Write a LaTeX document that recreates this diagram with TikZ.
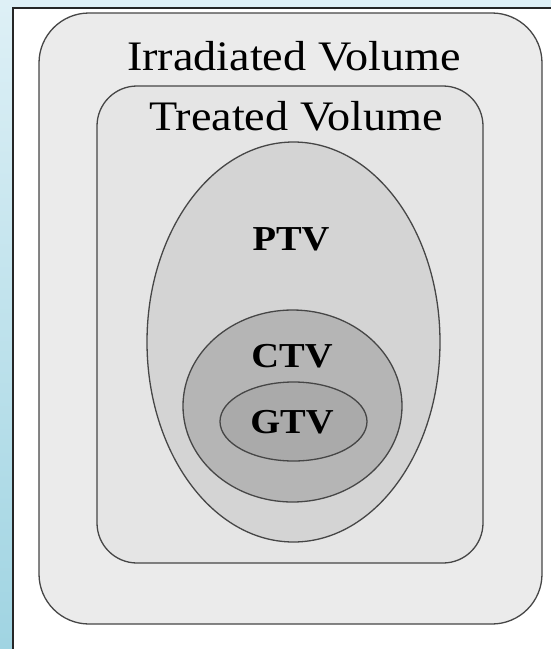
\documentclass[tikz,border=0pt]{standalone}
\usepackage{fontspec}
\setmainfont{Liberation Serif}
\usetikzlibrary{shapes.geometric}

\definecolor{bgblue}{RGB}{160,212,226}
\definecolor{bgpale}{RGB}{222,240,246}
\definecolor{edge}{RGB}{70,70,70}
\definecolor{irrfill}{RGB}{235,235,235}
\definecolor{trfill}{RGB}{229,229,229}
\definecolor{ptvfill}{RGB}{212,212,212}
\definecolor{ctvfill}{RGB}{181,181,181}
\definecolor{gtvfill}{RGB}{170,170,170}

\begin{document}
\begin{tikzpicture}[x=1pt, y=-1pt,
    volbox/.style={draw=edge, line width=1.3pt, rectangle, inner sep=0pt},
    volring/.style={draw=edge, line width=1.3pt, ellipse, inner sep=0pt},
    bigtext/.style={anchor=base, inner sep=0pt, xscale=1.1, transform shape,
      font=\fontsize{42}{48}\selectfont},
    tagtext/.style={anchor=base, inner sep=0pt, xscale=1.1, transform shape,
      font=\fontsize{35}{40}\selectfont\bfseries}]
  \useasboundingbox (0,0) rectangle (551,649);
  % page frame
  \shade[top color=bgpale, bottom color=bgblue] (0,0) rectangle (551,649);
  \fill[white] (13,8) rectangle (551,649);
  \draw[line width=2pt, black!85] (13,649) -- (13,8) -- (551,8);
  % volumes
  \node[volbox, fill=irrfill, rounded corners=50pt,
    minimum width=503pt, minimum height=611pt] (irradiated) at (290.5,318.5) {};
  \node[volbox, fill=trfill, rounded corners=40pt,
    minimum width=386pt, minimum height=477pt] (treated) at (290,324.5) {};
  \node[volring, fill=ptvfill, minimum width=293pt, minimum height=400pt]
    (ptv) at (293.5,342) {};
  \node[volring, fill=ctvfill, minimum width=219pt, minimum height=192pt]
    (ctv) at (292.5,406) {};
  \node[volring, fill=gtvfill, minimum width=147pt, minimum height=79pt]
    (gtv) at (293.5,421.5) {};
  % labels
  \node[bigtext] (irrlabel) at (294,70) {Irradiated Volume};
  \node[bigtext] (trlabel) at (296,130) {Treated Volume};
  \node[tagtext] (ptvlabel) at (291,250) {PTV};
  \node[tagtext] (ctvlabel) at (292,367) {CTV};
  \node[tagtext] (gtvlabel) at (292,433) {GTV};
\end{tikzpicture}
\end{document}
